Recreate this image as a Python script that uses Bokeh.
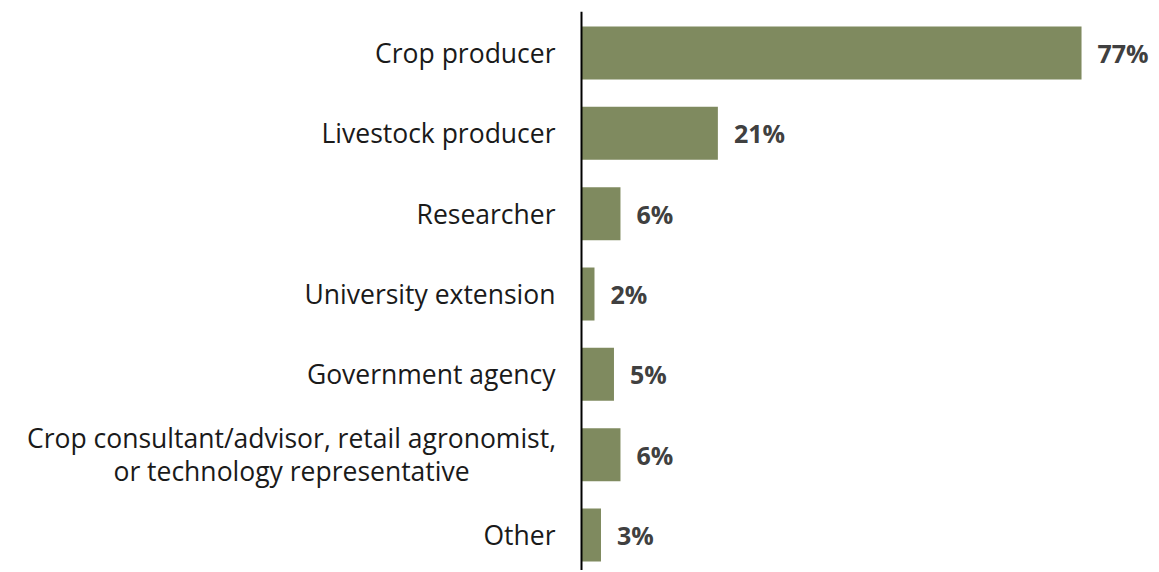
from bokeh.plotting import figure
from bokeh.models import Range1d, ColumnDataSource, Span
from bokeh.core.properties import value
from bokeh.embed import file_html
from bokeh.resources import INLINE

categories = ["Crop producer", "Livestock producer", "Researcher", "University extension",
              "Government agency",
              "Crop consultant/advisor, retail agronomist,\nor technology representative",
              "Other"]
percents = [77, 21, 6, 2, 5, 6, 3]

pos = list(range(len(categories)))
src = ColumnDataSource(dict(y=pos, v=percents, lab=[f"{v}%" for v in percents]))

# category labels: single-line right aligned; wrapped ones as two centred lines
single = dict(x=[], y=[], t=[])
multi = dict(x=[], y=[], t=[], dy=[])
for i, c in zip(pos, categories):
    lines = c.split("\n")
    if len(lines) == 1:
        single["x"].append(0); single["y"].append(i); single["t"].append(c)
    else:
        n = len(lines)
        for k, ln in enumerate(lines):
            multi["x"].append(0); multi["y"].append(i); multi["t"].append(ln)
            multi["dy"].append((k - (n - 1) / 2) * 33)

LABEL_FONT = value("Open Sans")
LABEL_SIZE = "26.5px"
STANDOFF = 26
WRAP_W = 528

p = figure(width=1155, height=570, output_backend="svg", toolbar_location=None,
           x_range=Range1d(-89.47, 88.39), y_range=Range1d(6.442, -0.517),
           min_border_left=0, min_border_right=0, min_border_top=11, min_border_bottom=0)

p.hbar(y="y", right="v", left=0, height=0.66, source=src, color="#7f8a5f", line_color=None)

p.text(x="v", y="y", text="lab", source=src, x_offset=16, text_baseline="middle",
       text_align="left", text_font=value("Open Sans"), text_font_style="bold",
       text_font_size="25px", text_color="#404040")

p.text(x="x", y="y", text="t", source=ColumnDataSource(single), x_offset=-STANDOFF,
       text_align="right", text_baseline="middle", text_font=LABEL_FONT,
       text_font_size=LABEL_SIZE, text_color="#1a1a1a")
p.text(x="x", y="y", text="t", y_offset="dy", source=ColumnDataSource(multi),
       x_offset=-STANDOFF - WRAP_W / 2,
       text_align="center", text_baseline="middle", text_font=LABEL_FONT,
       text_font_size=LABEL_SIZE, text_color="#1a1a1a")

p.add_layout(Span(location=0, dimension="height", line_color="#000000", line_width=2))

p.xaxis.visible = False
p.yaxis.visible = False
p.xgrid.visible = False
p.ygrid.visible = False
p.outline_line_color = None

open("out.html", "w").write(file_html(p, INLINE))
